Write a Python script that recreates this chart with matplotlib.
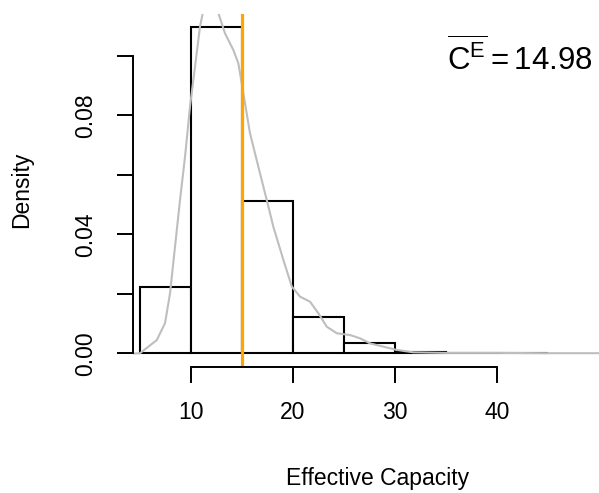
import numpy as np
import matplotlib
matplotlib.use("Agg")
import matplotlib.pyplot as plt

plt.rcParams['font.family'] = ['Liberation Sans', 'DejaVu Sans']
plt.rcParams['mathtext.fontset'] = 'custom'
plt.rcParams['mathtext.rm'] = 'Liberation Sans'
plt.rcParams['mathtext.it'] = 'Liberation Sans'

# histogram of effective capacity (density scale, bin width 5)
bin_edges = [5, 10, 15, 20, 25, 30, 35, 40, 45]
bin_density = [0.0224, 0.1097, 0.0513, 0.0123, 0.0035, 0.0004, 0.0002, 0.0001]

# kernel density estimate
kde_x = [4.4, 5.0, 6.64, 7.45, 7.94, 8.43, 8.92, 9.41, 9.90, 10.39, 10.88,
         11.15, 11.6, 12.0, 12.3, 12.68, 13.33, 14.15, 14.64, 14.97, 15.78,
         16.76, 17.75, 18.07, 19.05, 19.88, 20.69, 21.67, 22.49, 23.31, 24.29,
         25.59, 26.57, 27.55, 28.85, 30.16, 31.79, 35.0, 40.0, 45.0, 50.5]
kde_y = [0.0, 0.0001, 0.0045, 0.0102, 0.0202, 0.0359, 0.0516, 0.0661, 0.0830,
         0.0964, 0.1099, 0.1144, 0.121, 0.122, 0.119, 0.1144, 0.1076, 0.1020,
         0.0975, 0.0908, 0.0740, 0.0606, 0.0471, 0.0426, 0.0315, 0.0225,
         0.0191, 0.0174, 0.0135, 0.0090, 0.0068, 0.0062, 0.0051, 0.0034,
         0.0023, 0.0012, 0.0004, 0.0002, 0.0002, 0.0001, 0.0001]

mean_ce = 14.98
x_ticks = [10, 20, 30, 40]
y_ticks = [0.0, 0.02, 0.04, 0.06, 0.08, 0.10]
y_ticklabels = ['0.00', '', '0.04', '', '0.08', '']

W, H = 599, 493
fig = plt.figure(figsize=(W / 100, H / 100), dpi=100)
ax = fig.add_axes([133 / W, 1 - 367 / H, 1 - 133 / W, (367 - 14) / H])

widths = np.diff(bin_edges)
ax.bar(bin_edges[:-1], bin_density, width=widths, align='edge',
       facecolor='white', edgecolor='black', linewidth=1.5)
ax.plot(kde_x, kde_y, color='#BEBEBE', linewidth=1.5)
ax.axvline(mean_ce, color='#FFA500', linewidth=2.3)

ax.set_xlim(4.31, 50.0)
ax.set_ylim(-0.00454, 0.1141)

for s in ['top', 'right']:
    ax.spines[s].set_visible(False)
ax.spines['left'].set_bounds(0, 0.10)
ax.spines['bottom'].set_bounds(10, 40)
ax.spines['left'].set_linewidth(1.4)
ax.spines['bottom'].set_linewidth(1.4)

ax.set_xticks(x_ticks)
ax.set_yticks(y_ticks)
ax.set_yticklabels(y_ticklabels, rotation=90, va='center')
ax.tick_params(axis='both', direction='out', length=11.5, width=1.4,
               labelsize=16.5)
ax.tick_params(axis='x', pad=13)
ax.tick_params(axis='y', pad=14)

fig.text(22 / W, 1 - 190 / H, 'Density', rotation=90, ha='center',
         va='center', fontsize=16.5)
fig.text((288 + 468) / 2 / W, 1 - 478 / H, 'Effective Capacity',
         ha='center', va='center', fontsize=16.5)

fig.text(593 / W, 1 - 70 / H, r'$\overline{\mathrm{C}^{\mathrm{E}}} = 14.98$',
         ha='right', va='baseline', fontsize=22.5)

fig.savefig('out.png', dpi=100)
